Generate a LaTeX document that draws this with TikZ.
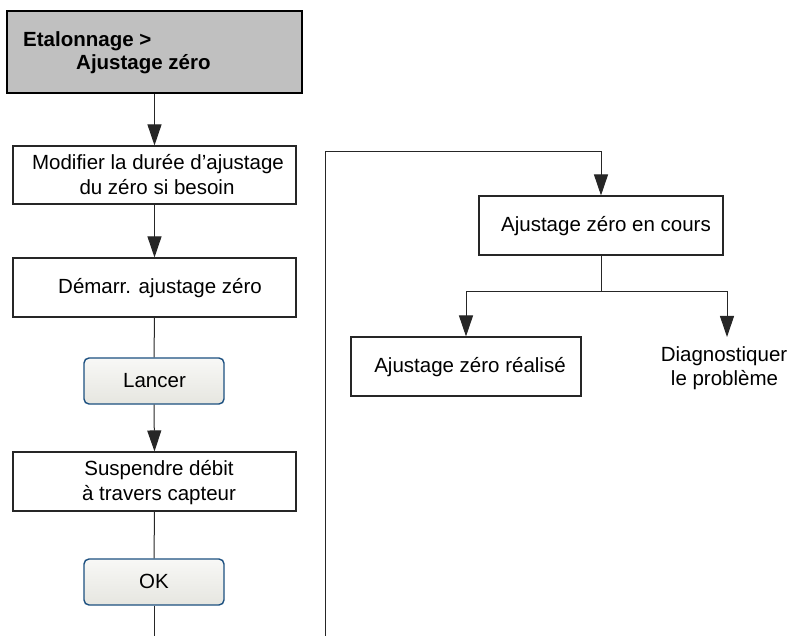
\documentclass[tikz,border=0pt]{standalone}
\usepackage{fontspec}
\setmainfont{Liberation Sans}
\usetikzlibrary{arrows.meta,calc}
\definecolor{hdrgray}{RGB}{192,192,192}
\definecolor{btnborder}{RGB}{28,80,128}
\definecolor{btntop}{RGB}{248,248,246}
\definecolor{btnbot}{RGB}{230,230,224}
\begin{document}
\begin{tikzpicture}[x=1pt,y=-1pt,
  box/.style={draw=black!85, line width=1.1pt, fill=white, rectangle, inner sep=0pt},
  header/.style={draw=black, line width=1.6pt, fill=hdrgray, rectangle, inner sep=0pt},
  button/.style={draw=btnborder, line width=1.4pt, rounded corners=5pt,
    top color=btntop, bottom color=btnbot, inner sep=0pt},
  txt/.style={inner sep=0pt, font=\fontsize{20.5}{25}\selectfont, anchor=base},
  htxt/.style={inner sep=0pt, font=\fontsize{20.5}{25}\selectfont\bfseries, anchor=base west},
  link/.style={draw=black!85, line width=1pt},
  arr/.style={link, -{Triangle[width=14pt,length=21pt]}}]

\useasboundingbox (0,0) rectangle (790,636);

% ---- left column: menu path and steps ----
\node[header, minimum width=295pt, minimum height=82pt] (hdr) at (154.5,52) {};
\node[htxt] (hdrA) at (23,47) {Etalonnage >};
\node[htxt] (hdrB) at (76,70) {Ajustage zéro};

\node[box, minimum width=283pt, minimum height=58pt] (b1) at (154.5,175) {};
\node[txt] (b1a) at (158,170) {Modifier la durée d’ajustage};
\node[txt] (b1b) at (157,195) {du zéro si besoin};

\node[box, minimum width=283pt, minimum height=59pt] (b2) at (154.5,287.5) {};
\node[txt] (b2a) at (160,294) {Démarr. ajustage zéro};

\node[button, minimum width=140pt, minimum height=46pt] (lancer) at (154,381) {};
\node[txt] (lancerT) at (154.5,388) {Lancer};

\node[box, minimum width=283pt, minimum height=59pt] (b3) at (154.5,481.5) {};
\node[txt] (b3a) at (159,475) {Suspendre débit};
\node[txt] (b3b) at (159,500) {à travers capteur};

\node[button, minimum width=140pt, minimum height=46pt] (ok) at (154,582) {};
\node[txt] (okT) at (154,588) {OK};
\coordinate (okend) at (154,636);

% ---- right column: running adjustment and outcomes ----
\coordinate (loopS) at (325,636);
\coordinate (loopT) at (325,152);

\node[box, minimum width=244pt, minimum height=59pt] (b4) at (601,225.5) {};
\node[txt] (b4a) at (606,232) {Ajustage zéro en cours};
\coordinate (split) at (601,292);

\node[box, minimum width=230pt, minimum height=59pt] (b5) at (466,366.5) {};
\node[txt] (b5a) at (470,372) {Ajustage zéro réalisé};

\node[txt] (d1) at (724,362) {Diagnostiquer};
\node[txt] (d2) at (724.5,385) {le problème};
\coordinate (dtop) at (727,337);

% ---- connectors ----
\draw[arr] (hdr.south) -- (b1.north);
\draw[arr] (b1.south) -- (b2.north);
\draw[link] (b2.south) -- (lancer.north);
\draw[arr] (lancer.south) -- (b3.north);
\draw[link] (b3.south) -- (ok.north);
\draw[link] (ok.south) -- (okend);

\draw[arr] (loopS) -- (loopT) -| (b4.north);
\draw[link] (b4.south) -- (split);
\draw[arr] (split) -| (b5.north);
\draw[arr] (split) -| (dtop);
\end{tikzpicture}
\end{document}
